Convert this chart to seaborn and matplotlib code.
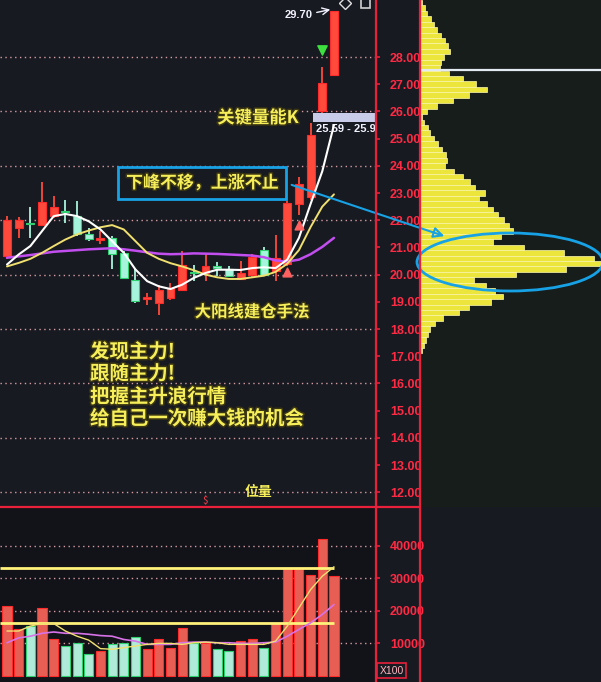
import matplotlib
matplotlib.use("Agg")
import matplotlib.pyplot as plt
import matplotlib.patheffects as pe
from matplotlib.patches import Rectangle, Ellipse, FancyArrowPatch
import seaborn as sns

# ---------------- DATA ----------------
opens  = [20.68, 21.70, 21.90, 21.84, 22.15, 22.35, 22.15, 21.48, 21.26, 21.35,
          20.80, 19.82, 19.12, 18.95, 19.14, 19.45, 20.10, 20.05, 20.30, 20.20,
          19.83, 20.00, 20.90, 20.12, 20.40, 22.58, 22.87, 26.00, 27.34]
closes = [22.00, 22.00, 21.85, 22.67, 22.50, 22.30, 21.48, 21.30, 21.36, 20.76,
          19.88, 19.02, 19.18, 19.43, 19.50, 20.37, 20.05, 20.32, 20.26, 19.96,
          20.07, 20.66, 20.00, 20.60, 22.64, 23.32, 25.14, 27.03, 29.70]
highs  = [22.15, 22.10, 22.50, 23.40, 22.88, 22.76, 22.70, 21.72, 21.60, 21.41,
          20.85, 20.19, 19.33, 19.60, 19.70, 20.88, 20.35, 20.78, 20.45, 20.30,
          20.50, 20.75, 21.00, 21.45, 22.70, 23.60, 25.57, 27.65, 29.70]
lows   = [20.57, 21.35, 21.35, 21.80, 22.08, 21.90, 21.41, 21.23, 21.11, 20.19,
          19.85, 18.97, 18.90, 18.50, 19.05, 19.40, 19.75, 19.75, 19.95, 19.90,
          19.80, 19.90, 19.95, 19.75, 20.30, 22.20, 22.75, 25.93, 27.30]

ma_white  = [20.37, 20.74, 21.05, 21.60, 22.15, 22.23, 22.15, 21.96, 21.66, 21.23,
             20.80, 20.19, 19.76, 19.57, 19.47, 19.63, 19.88, 20.06, 20.18, 20.18,
             20.17, 20.24, 20.27, 20.24, 20.55, 21.35, 22.60, 23.80, 25.50]
ma_yellow = [20.30, 20.43, 20.58, 20.80, 21.05, 21.29, 21.48, 21.62, 21.74, 21.82,
             21.66, 21.23, 20.80, 20.58, 20.42, 20.30, 20.16, 20.00, 19.90, 19.84,
             19.84, 19.90, 19.96, 20.10, 20.40, 20.90, 21.75, 22.50, 22.95]
ma_purple = [20.62, 20.67, 20.72, 20.78, 20.84, 20.87, 20.90, 20.93, 20.95, 20.97,
             20.93, 20.88, 20.82, 20.77, 20.75, 20.76, 20.78, 20.77, 20.76, 20.74,
             20.72, 20.70, 20.64, 20.52, 20.48, 20.55, 20.75, 21.02, 21.35]

volumes  = [21400, 14300, 15300, 20900, 11200, 9200, 10200, 6600, 7700, 9700,
            10200, 12000, 8400, 11200, 8700, 14800, 10000, 10200, 8200, 7700,
            10700, 11200, 8700, 16300, 32700, 32900, 31100, 42000, 30600]
vol_ma5  = [13800, 13800, 15300, 16100, 16100, 13800, 12200, 11000, 8400, 8200,
            8700, 9200, 9700, 10000, 10000, 9700, 10200, 10400, 10200, 9700,
            9700, 9700, 9700, 10700, 15300, 20900, 26500, 30600, 33500]
vol_ma10 = [10200, 11700, 12200, 13100, 13500, 13100, 13100, 12800, 12400, 12200,
            11200, 10700, 9700, 9700, 9700, 10200, 10400, 10400, 10200, 10200,
            10000, 10000, 10200, 10400, 12200, 14300, 16300, 18900, 21900]
vol_levels = [33200, 16300]

profile_prices = [30.0, 29.8, 29.6, 29.4, 29.2, 29.0, 28.8, 28.6, 28.4, 28.2,
                  28.0, 27.8, 27.6, 27.4, 27.2, 27.0, 26.8, 26.6, 26.4, 26.2,
                  26.0, 25.8, 25.6, 25.4, 25.2, 25.0, 24.8, 24.6, 24.4, 24.2,
                  24.0, 23.8, 23.6, 23.4, 23.2, 23.0, 22.8, 22.6, 22.4, 22.2,
                  22.0, 21.8, 21.6, 21.4, 21.2, 21.0, 20.8, 20.6, 20.4, 20.2,
                  20.0, 19.8, 19.6, 19.4, 19.2, 19.0, 18.8, 18.6, 18.4, 18.2,
                  18.0, 17.8, 17.6, 17.4, 17.2]
profile_widths = [1, 4, 6, 10, 13, 16, 20, 24, 27, 29,
                  23, 20, 19, 28, 42, 55, 66, 48, 32, 16,
                  6, 1, 3, 7, 9, 13, 17, 21, 25, 26,
                  24, 33, 42, 49, 54, 64, 58, 66, 72, 77,
                  83, 88, 92, 80, 72, 103, 143, 173, 180, 145,
                  95, 53, 65, 74, 82, 70, 48, 38, 22, 14,
                  9, 7, 5, 3, 1]
profile_line = 27.52

price_ticks = [28, 27, 26, 25, 24, 23, 22, 21, 20, 19, 18, 17, 16, 15, 14, 13, 12]
grid_prices = [28, 26, 24, 22, 20, 18, 16, 14, 12]
vol_ticks = [40000, 30000, 20000, 10000]

up_idx, up_price = [24, 25], [20.10, 21.83]
down_idx, down_price = [27], [28.26]

# ---------------- STYLE ----------------
sns.set_theme(style="dark")
plt.rcParams['font.family'] = ['Noto Sans CJK SC', 'DejaVu Sans']

BG = "#181a21"
RED = "#ff4a3c"
RED_EDGE = "#ff2a2a"
MINT = "#a6f4dc"
MINT_EDGE = "#2fd070"
AXRED = "#e8203c"
LABRED = "#ff2a44"
YEL = "#f6ef5a"
BLUE = "#18a2e6"
GRIDC = "#d59aa2"
CJK = ['Noto Sans CJK SC', 'DejaVu Sans']

W, H = 601, 682


def rect(x0, y0, x1, y1):
    return [x0 / W, 1 - y1 / H, (x1 - x0) / W, (y1 - y0) / H]


fig = plt.figure(figsize=(6.01, 6.82), dpi=100, facecolor=BG)
ax_p = fig.add_axes(rect(0, 0, 376, 507))
ax_v = fig.add_axes(rect(0, 507, 376, 682))
ax_r = fig.add_axes(rect(421, 0, 601, 507))
ax_o = fig.add_axes([0, 0, 1, 1])

idx = list(range(len(opens)))
XL = (-0.6, 31.6)
PL = (11.456, 30.096)

# ---------------- PRICE PANEL ----------------
ax_p.set_facecolor(BG)
ax_p.hlines(grid_prices, XL[0], XL[1], colors=GRIDC, linestyles=(0, (1, 2.5)), lw=1.0)
for i in idx:
    up = closes[i] >= opens[i]
    fc, ec = (RED, RED_EDGE) if up else (MINT, MINT_EDGE)
    ax_p.vlines(i, lows[i], highs[i], color=fc if up else MINT, lw=1.3, zorder=3)
    bottom = min(opens[i], closes[i])
    h = max(abs(closes[i] - opens[i]), 0.04)
    ax_p.bar(i, h, bottom=bottom, width=0.68, color=fc, edgecolor=ec, lw=0.8, zorder=4)

sns.lineplot(x=idx, y=ma_purple, color="#c24ef0", lw=1.8, ax=ax_p, zorder=5)
sns.lineplot(x=idx, y=ma_yellow, color="#f0e070", lw=1.4, ax=ax_p, zorder=5)
sns.lineplot(x=idx, y=ma_white, color="#ffffff", lw=1.5, ax=ax_p, zorder=6)

ax_p.scatter(up_idx, up_price, marker="^", s=40, color="#ff6060", zorder=7)
ax_p.scatter(down_idx, down_price, marker="v", s=45, color="#3ee040", zorder=7)

ax_p.set_xlim(*XL)
ax_p.set_ylim(*PL)
ax_p.set_xticks([])
ax_p.yaxis.tick_right()
ax_p.set_yticks(price_ticks)
ax_p.set_yticklabels([f"{t:.2f}" for t in price_ticks], family="Liberation Sans",
                     fontweight="bold", fontsize=9, color=LABRED)
ax_p.tick_params(axis="y", colors=AXRED, length=3, width=1.2, pad=7, labelcolor=LABRED)
ax_p.set_xlabel("")
ax_p.set_ylabel("")
for s in ax_p.spines.values():
    s.set_visible(False)

# ---------------- VOLUME PANEL ----------------
ax_v.set_facecolor("#121319")
ax_v.hlines(vol_ticks, XL[0], XL[1], colors=GRIDC, linestyles=(0, (1, 2.5)), lw=1.0)
direction = ["up" if c >= o else "down" for o, c in zip(opens, closes)]
sns.barplot(x=idx, y=volumes, hue=direction, palette={"up": RED, "down": MINT},
            native_scale=True, width=0.78, dodge=False, legend=False, ax=ax_v, zorder=3)
for p in ax_v.patches:
    r, g, b, a = p.get_facecolor()
    p.set_edgecolor(RED_EDGE if r > 0.9 and g < 0.5 else MINT_EDGE)
    p.set_linewidth(0.8)
ax_v.hlines(vol_levels, XL[0], 28.0, colors="#fff27a", lw=2.0, zorder=4)
sns.lineplot(x=idx, y=vol_ma10, color="#d872e8", lw=1.2, ax=ax_v, zorder=5)
sns.lineplot(x=idx, y=vol_ma5, color="#f2e070", lw=1.0, ax=ax_v, zorder=5)
ax_v.set_xlim(*XL)
ax_v.set_ylim(-1840, 51840)
ax_v.set_xticks([])
ax_v.yaxis.tick_right()
ax_v.set_yticks(vol_ticks)
ax_v.set_yticklabels([str(t) for t in vol_ticks], family="Liberation Sans",
                     fontweight="bold", fontsize=9, color=LABRED)
ax_v.tick_params(axis="y", colors=AXRED, length=3, width=1.2, pad=7, labelcolor=LABRED)
ax_v.set_xlabel("")
ax_v.set_ylabel("")
for s in ax_v.spines.values():
    s.set_visible(False)

# ---------------- VOLUME PROFILE ----------------
ax_r.set_facecolor("#171d1b")
ax_r.barh(profile_prices, profile_widths, height=0.2, color="#ece53c",
          edgecolor="#fffab0", lw=0.5)
ax_r.axhline(profile_line, color="#e4eaf2", lw=1.6)
ax_r.set_xlim(0, 180)
ax_r.set_ylim(*PL)
ax_r.set_xticks([])
ax_r.set_yticks([])
for s in ax_r.spines.values():
    s.set_visible(False)

# ---------------- OVERLAY (pixel coords) ----------------
ax_o.set_xlim(0, W)
ax_o.set_ylim(H, 0)
ax_o.axis("off")
ax_o.patch.set_alpha(0)

ax_o.plot([376, 376], [0, H], color=AXRED, lw=1.6)
ax_o.plot([420, 420], [0, H], color=AXRED, lw=1.6)
ax_o.plot([0, 420], [507, 507], color=AXRED, lw=1.6)

glow = [pe.withStroke(linewidth=2.2, foreground="#3b3612")]
ax_o.text(258, 118, "关键量能K", ha="center", va="center", fontsize=12.5,
          color=YEL, fontweight="bold", family=CJK, path_effects=glow)
ax_o.add_patch(Rectangle((118, 167), 168, 32, fill=False, ec=BLUE, lw=2))
ax_o.text(202, 183, "下峰不移，上涨不止", ha="center", va="center", fontsize=12.2,
          color=YEL, fontweight="bold", family=CJK, path_effects=glow)
ax_o.text(252, 312, "大阳线建仓手法", ha="center", va="center", fontsize=11.8,
          color=YEL, fontweight="bold", family=CJK, path_effects=glow)
for y, s in zip([352, 374, 397, 419],
                ["发现主力!", "跟随主力!", "把握主升浪行情", "给自己一次赚大钱的机会"]):
    ax_o.text(90, y, s, ha="left", va="center", fontsize=14, color=YEL,
              fontweight="bold", family=CJK, path_effects=glow)
ax_o.text(258, 492, "位量", ha="center", va="center", fontsize=10, color=YEL,
          fontweight="bold", family=CJK)
ax_o.text(205, 501, "$", ha="center", va="center", fontsize=7, color="#ff4050")

ax_o.add_patch(FancyArrowPatch((289, 184), (447, 237), arrowstyle="-|>",
                               mutation_scale=16, color=BLUE, fc="none", lw=1.5))
ax_o.add_patch(Ellipse((510, 262), 186, 58, fill=False, ec=BLUE, lw=2))

# price tags
ax_o.text(299, 15, "29.70", ha="center", va="center", fontsize=8, color="#f2f2ff",
          fontweight="bold", family="Liberation Sans")
ax_o.annotate("", xy=(333, 9), xytext=(314, 13),
              arrowprops=dict(arrowstyle="->", color="#f2f2ff", lw=1))
ax_o.add_patch(Rectangle((313, 113), 63, 9, fc="#c9cce8", ec="none"))
ax_p.text(316, 129, "25.59 - 25.9", transform=ax_o.transData, ha="left",
          va="center", fontsize=8, color="#f2f2ff", fontweight="bold",
          family="Liberation Sans", clip_on=True)
ax_o.plot([345], [3], marker="D", ms=6, mfc="none", mec="#e0e0e0")
ax_o.add_patch(Rectangle((361, -2), 9, 10, fill=False, ec="#d0d0d0", lw=1.2))

ax_o.add_patch(Rectangle((377, 663), 29, 15, fill=False, ec=AXRED, lw=1.2))
ax_o.text(391.5, 670.5, "X100", ha="center", va="center", fontsize=7.5,
          color="#ffb6c0", family="Liberation Sans")

fig.savefig("out.png", dpi=100, facecolor=BG)
